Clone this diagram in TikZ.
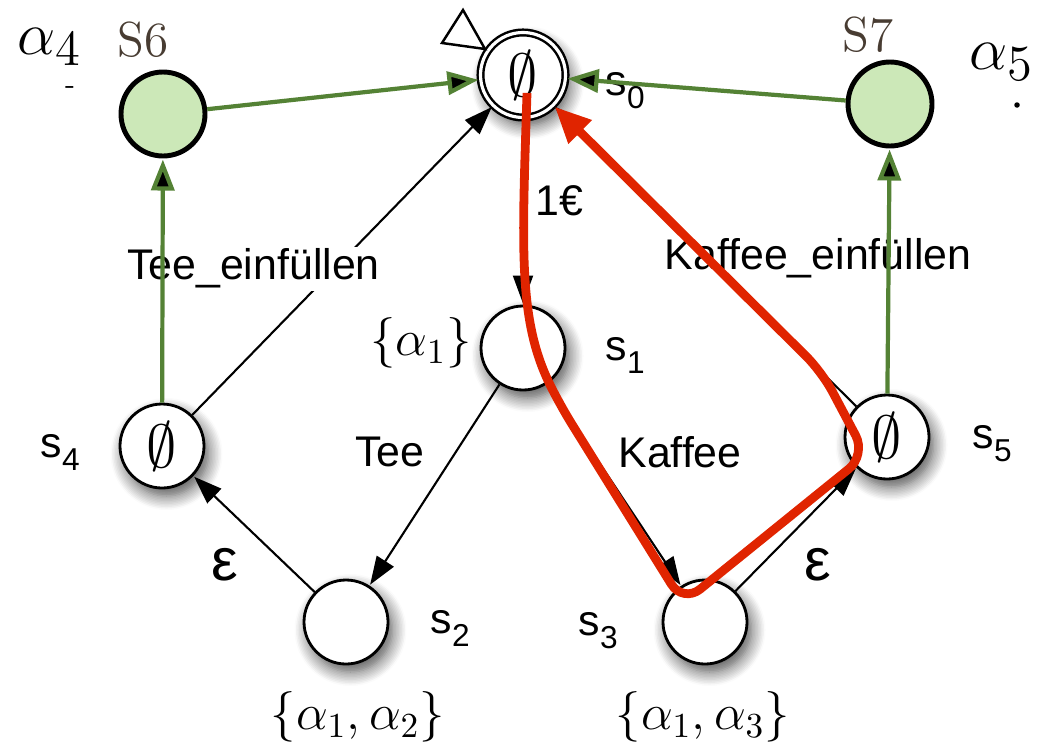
\documentclass[tikz,border=0pt]{standalone}
\usepackage{amsmath}
\usepackage{fontspec}
\setsansfont{Liberation Sans}
\usepackage{tikz}
\usetikzlibrary{arrows.meta,shapes,shadows.blur,calc}

\definecolor{fillgreen}{RGB}{204,232,184}
\definecolor{edgegreen}{RGB}{84,130,53}
\definecolor{hlred}{RGB}{224,36,0}
\definecolor{darkbrown}{RGB}{72,60,50}

\newcommand{\stname}[1]{s\raisebox{-3.7pt}{\fontsize{9}{9}\selectfont #1}}
\newcommand{\nullset}{{\fontsize{17}{17}\selectfont$\emptyset$}}

\begin{document}
\begin{tikzpicture}[shorten >=0.3pt,>={Triangle[length=2.8mm,width=2mm]}]
	\sffamily\fontsize{12.2}{14}\selectfont
	\useasboundingbox (0,0) rectangle (10.4cm,7.44cm);
	\def \toprow{6.69cm}
	\def \midrow{3.96cm}
	\def \lowrow{1.22cm}
	\def \setrow{0.27cm}

	\tikzstyle{q-node}=[circle,draw=black!100,line width=0.8pt,fill=white,inner sep=0pt,minimum size=8.4mm,blur shadow={shadow xshift=0.45mm,shadow yshift=-0.8mm,shadow blur radius=1.4mm,shadow blur steps=10,shadow opacity=70}]
	\tikzstyle{i-node}=[q-node,double=white,double distance=0.9pt,line width=0.7pt,minimum size=8.5mm]
	\tikzstyle{g-node}=[circle,draw=black!100,line width=1.4pt,fill=fillgreen,inner sep=0pt,minimum size=8.4mm]
	\tikzstyle{annot}=[inner sep=0pt]
	\tikzstyle{trans}=[fill=white,inner sep=0.6pt]
	\tikzstyle{g-edge}=[->,draw=edgegreen,line width=1.2pt,>={Triangle[length=3.1mm,width=2.3mm]}]
	\tikzstyle{hl-path}=[->,draw=hlred,line width=2.5pt,rounded corners=2.2mm,>={Triangle[length=3.6mm,width=3.1mm]}]

	% states
	\node[i-node]	(s0)	at (5.23cm,\toprow)	{\nullset};
	\node[q-node]	(s1)	at (5.23cm,\midrow)	{};
	\node[q-node]	(s2)	at (3.46cm,\lowrow)	{};
	\node[q-node]	(s3)	at (7.05cm,\lowrow)	{};
	\node[q-node]	(s4)	at (1.62cm,2.98cm)	{\nullset};
	\node[q-node]	(s5)	at (8.87cm,3.07cm)	{\nullset};
	\node[g-node]	(s6)	at (1.63cm,6.30cm)	{};
	\node[g-node]	(s7)	at (8.90cm,6.40cm)	{};

	% start marker
	\draw[line width=0.7pt,fill=white] ($(s0)+(-0.81,0.32)$) -- ($(s0)+(-0.60,0.65)$) -- ($(s0)+(-0.38,0.26)$) -- cycle;

	% state names
	\node[annot,anchor=base west]	(n0)	at (6.05cm,6.49cm)	{\stname{0}};
	\node[annot,anchor=base west]	(n1)	at (6.05cm,3.84cm)	{\stname{1}};
	\node[annot,anchor=base west]	(n2)	at (4.30cm,1.11cm)	{\stname{2}};
	\node[annot,anchor=base west]	(n3)	at (5.78cm,1.09cm)	{\stname{3}};
	\node[annot,anchor=base west]	(n4)	at (0.40cm,2.87cm)	{\stname{4}};
	\node[annot,anchor=base west]	(n5)	at (9.72cm,2.96cm)	{\stname{5}};
	\node[annot,text=darkbrown]	(n6)	at (1.43cm,7.04cm)	{\rmfamily\fontsize{14}{15}\selectfont S6};
	\node[annot,text=darkbrown]	(n7)	at (8.68cm,7.09cm)	{\rmfamily\fontsize{14}{15}\selectfont S7};

	% sets
	\node[annot]	(a1)	at (4.21cm,4.01cm)	{\fontsize{14.2}{16}\selectfont$\{\alpha_1\}$};
	\node[annot]	(a12)	at (3.58cm,\setrow)	{\fontsize{14.2}{16}\selectfont$\{\alpha_1,\alpha_2\}$};
	\node[annot]	(a13)	at (7.03cm,\setrow)	{\fontsize{14.2}{16}\selectfont$\{\alpha_1,\alpha_3\}$};
	\node[annot]	(a4)	at (0.50cm,6.97cm)	{\fontsize{19}{19}\selectfont$\alpha_4$};
	\node[annot]	(a5)	at (10.02cm,6.82cm)	{\fontsize{19}{19}\selectfont$\alpha_5$};
	\node[annot]	(d4)	at (0.70cm,6.54cm)	{\rmfamily\fontsize{8}{8}\selectfont -};
	\node[circle,fill=black,inner sep=0pt,minimum size=0.55mm]	(d5)	at (10.17cm,6.39cm)	{};

	% transitions
	\path[->,line width=0.6pt]
		(s0)	edge	node [trans,xshift=3.6mm,yshift=1.1mm]	{1€}	(s1)
		(s1)	edge	node [trans,xshift=-4.45mm,yshift=3.3mm]	{Tee}	(s2)
		(s1)	edge	node [trans,xshift=6.6mm,yshift=3.3mm]	{Kaffee}	(s3)
		(s2)	edge	node [trans,xshift=-2.9mm,yshift=-3.1mm]	{\fontsize{17}{17}\selectfont ε}	(s4)
		(s3)	edge	node [trans,xshift=2.2mm,yshift=-3.55mm]	{\fontsize{17}{17}\selectfont ε}	(s5)
		(s4)	edge	node [trans,xshift=-8.9mm,yshift=-0.8mm]	{Tee\_einfüllen}	(s0)
		(s5)	edge	node [trans,xshift=11.3mm,yshift=-0.2mm]	{Kaffee\_einfüllen}	(s0);

	\path[g-edge]
		(s6)	edge	(s0)
		(s7)	edge	(s0)
		(s4)	edge	(s6)
		(s5)	edge	(s7);

	% highlighted run
	\coordinate (h0) at (5.27cm,6.51cm);
	\coordinate (h1) at (5.60cm,3.39cm);
	\coordinate (h2) at (6.83cm,1.41cm);
	\coordinate (h3) at (8.66cm,2.89cm);
	\coordinate (h4) at (8.22cm,3.72cm);
	\draw[hl-path] (h0) .. controls (5.22cm,4.94cm) and (5.18cm,4.24cm) .. (h1) -- (h2) -- (h3) -- (h4) -- (s0.-45);
\end{tikzpicture}
\end{document}
